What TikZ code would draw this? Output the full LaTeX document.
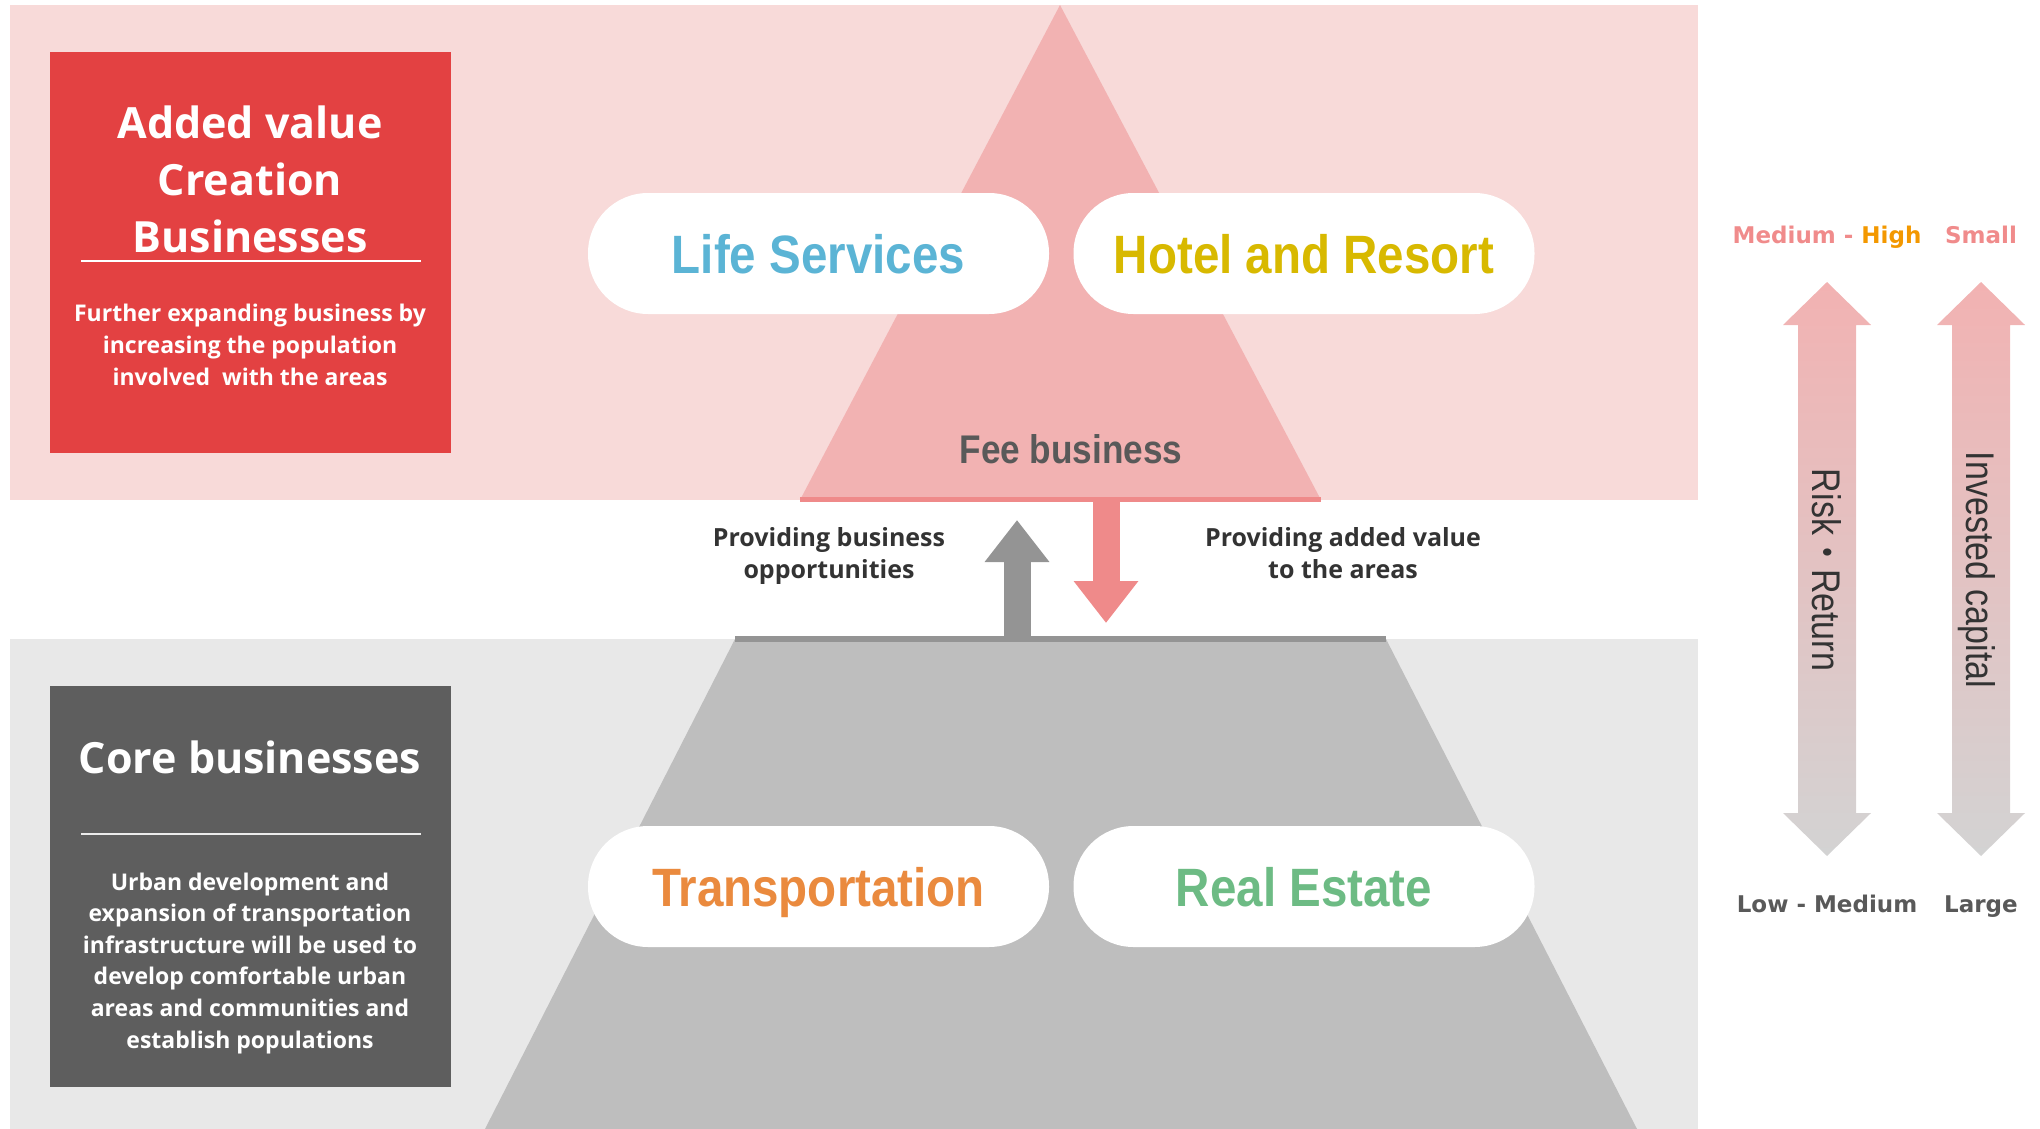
\documentclass[tikz,border=0pt]{standalone}
\usepackage{fontspec}
\setmainfont{Open Sans}
\newfontfamily\arialfont{Liberation Sans}
\newfontfamily\dejafont{DejaVu Sans}
\newfontfamily\cjkfont{Noto Sans CJK JP}
\usetikzlibrary{positioning,arrows.meta}
\definecolor{bandpink}{HTML}{F8DAD9}
\definecolor{tripink}{HTML}{F2B2B2}
\definecolor{edgepink}{HTML}{EF8A8A}
\definecolor{boxred}{HTML}{E34142}
\definecolor{bandgray}{HTML}{E8E8E8}
\definecolor{trapgray}{HTML}{BEBEBE}
\definecolor{edgegray}{HTML}{949494}
\definecolor{boxgray}{HTML}{5E5E5E}
\definecolor{txtdark}{HTML}{333333}
\definecolor{txtgray}{HTML}{595959}
\definecolor{lifeblue}{HTML}{5BB4D5}
\definecolor{hotelgold}{HTML}{D8B900}
\definecolor{transorange}{HTML}{EA8A3E}
\definecolor{estategreen}{HTML}{6DBB84}
\definecolor{labelpink}{HTML}{F08B8B}
\definecolor{highorange}{HTML}{F39800}
\definecolor{fadegray}{HTML}{D3D3D3}
\newcommand{\narrow}[1]{\scalebox{0.88}[1]{#1}}
\tikzset{
  panel/.style ={rectangle, inner sep=0pt, minimum width=401pt, minimum height=401pt},
  ttl/.style   ={text=white, align=center, inner sep=0pt, font=\fontsize{43}{57}\selectfont\bfseries},
  note/.style  ={text=white, align=center, inner sep=0pt, font=\fontsize{23}{31.6}\selectfont\bfseries},
  pill/.style  ={fill=white, rounded corners=60pt, minimum width=461pt, minimum height=121pt,
                 inner sep=0pt, text height=39pt, text depth=0pt,
                 font=\arialfont\fontsize{54}{54}\selectfont\bfseries},
  flow/.style  ={text=txtdark, align=center, inner sep=0pt, font=\fontsize{25}{32}\selectfont\bfseries},
  gauge/.style ={inner sep=0pt, text height=17pt, text depth=0pt,
                 font=\dejafont\fontsize{23}{23}\selectfont\bfseries},
  vtext/.style ={rotate=-90, text=txtdark, inner sep=0pt, text height=29pt, text depth=0pt,
                 font=\arialfont\fontsize{40}{40}\selectfont},
  blk/.style   ={line width=27pt, -{Triangle[width=62pt,length=42pt]}}
}

\begin{document}
\begin{tikzpicture}[x=1pt,y=-1pt]
  \useasboundingbox (0,0) rectangle (2040,1129);
  % bands and pyramid
  \fill[bandpink] (10,5) rectangle (1698,500);
  \fill[bandgray] (10,639) rectangle (1698,1129);
  \fill[tripink] (1060,5) -- (1321,500) -- (800,500) -- cycle;
  \fill[trapgray] (735,639) -- (1386,639) -- (1637,1129) -- (485,1129) -- cycle;
  \draw[edgepink, line width=5pt] (800,499) -- (1321,499);
  \draw[edgegray, line width=6pt] (735,639) -- (1386,639);

  \node[panel, fill=boxred](av) at (250.5,252.5){};
  \node[ttl, anchor=base](avt) at (250,252){Added value\\Creation\\Businesses};
  \draw[white, line width=2pt] (81,261) -- (421,261);
  \node[note, anchor=base](avn) at (250,385){Further expanding business by\\increasing the population\\involved\ \ with the areas};

  \node[panel, fill=boxgray](core) at (250.5,886.5){};
  \node[ttl, anchor=base](coret) at (250,773){Core businesses};
  \draw[black!8, line width=2pt] (81,834) -- (421,834);
  \node[note, anchor=base](coren) at (250,1048){Urban development and\\expansion of transportation\\infrastructure will be used to\\develop comfortable urban\\areas and communities and\\establish populations};

  \node[pill, text=lifeblue](life) at (818.5,253.5){\narrow{Life Services}};
  \node[pill, text=hotelgold](hotel) at (1304,253.5){\narrow{Hotel and Resort}};
  \node[pill, text=transorange](trans) at (818.5,886.5){\narrow{Transportation}};
  \node[pill, text=estategreen](re) at (1304,886.5){\narrow{Real Estate}};
  \node[text=txtgray, font=\arialfont\fontsize{40}{40}\selectfont\bfseries](fee) at (1071,449){\narrow{Fee business}};

  % between the levels
  \coordinate (gbot) at (1017,639);
  \coordinate (gtip) at (1017,520);
  \coordinate (ptop) at (1106,500);
  \coordinate (ptip) at (1106,623);
  \draw[blk, edgegray](gbot) -- (gtip);
  \draw[blk, edgepink](ptop) -- (ptip);
  \node[flow, anchor=base](bo) at (829,578){Providing business\\opportunities};
  \node[flow, anchor=base](avl) at (1343,578){Providing added value\\to the areas};

  % scales on the right
  \foreach \cx in {1827,1981}{
    \shade[top color=tripink, bottom color=fadegray]
      (\cx,282) -- ({\cx+44},325) -- ({\cx+29},325) -- ({\cx+29},813) -- ({\cx+44},813)
      -- (\cx,856) -- ({\cx-44},813) -- ({\cx-29},813) -- ({\cx-29},325) -- ({\cx-44},325) -- cycle;
  }
  \node[vtext](rr) at (1827,570){\scalebox{0.85}[1]{Risk{\cjkfont ・}Return}};
  \node[vtext](ic) at (1981,570){\scalebox{0.85}[1]{Invested capital}};
  \node[gauge, text=labelpink](hi) at (1827,235){Medium - {\color{highorange}High}};
  \node[gauge, text=labelpink](sm) at (1981,235){Small};
  \node[gauge, text=txtgray](lo) at (1827,904){Low - Medium};
  \node[gauge, text=txtgray](lg) at (1981,904){Large};
\end{tikzpicture}
\end{document}
